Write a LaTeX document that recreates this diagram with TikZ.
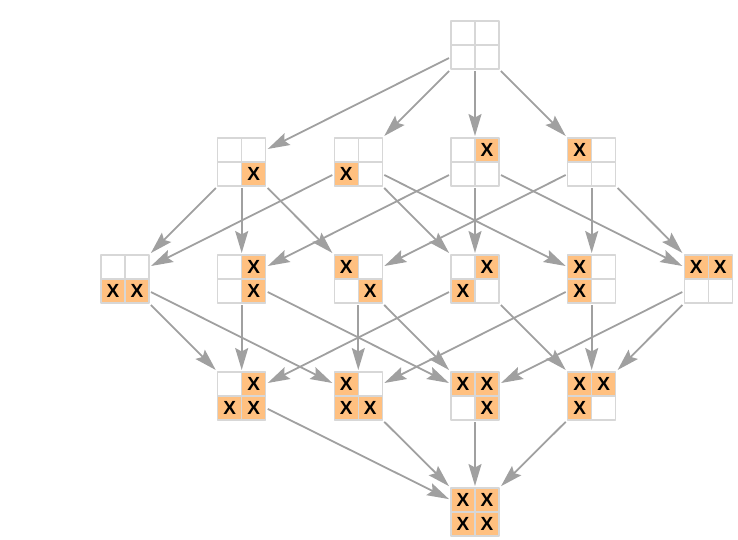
\documentclass[tikz,border=0pt]{standalone}
\usepackage{fontspec}
\setmainfont{Liberation Sans}
\usetikzlibrary{arrows.meta}
\definecolor{edgegray}{RGB}{160,160,160}
\definecolor{cellgray}{RGB}{215,215,215}
\definecolor{cellorange}{RGB}{255,192,128}
\begin{document}
\begin{tikzpicture}[x=1pt,y=-1pt,line join=round,
    >={Stealth[length=22pt,width=13pt,inset=3.5pt]},
    board/.style={minimum size=48pt,inner sep=0pt,outer sep=2pt},
    cell0/.style={draw=cellgray,line width=1.5pt,fill=white,minimum size=24pt,inner sep=0pt},
    cell1/.style={cell0,fill=cellorange,font=\fontsize{19}{19}\selectfont\bfseries},
    link/.style={->,draw=edgegray,line width=1.8pt}]
 	\useasboundingbox (0,0) rectangle (738,540);
 	% boards: cells a = top left, b = top right, c = bottom left, d = bottom right
 	\foreach \nm/\x/\y/\pa/\pb/\pc/\pd in {
 	    o/475/45/0/0/0/0,
 	    d/241.7/162/0/0/0/1, c/358.3/162/0/0/1/0, b/475/162/0/1/0/0, a/591.7/162/1/0/0/0,
 	    cd/125/279/0/0/1/1, bd/241.7/279/0/1/0/1, ad/358.3/279/1/0/0/1,
 	    bc/475/279/0/1/1/0, ac/591.7/279/1/0/1/0, ab/708.3/279/1/1/0/0,
 	    bcd/241.7/396/0/1/1/1, acd/358.3/396/1/0/1/1, abd/475/396/1/1/0/1, abc/591.7/396/1/1/1/0,
 	    abcd/475/512/1/1/1/1} {
 	  \node[board] (\nm) at (\x,\y) {};
 	  \foreach \v/\dx/\dy in {\pa/-12/-12,\pb/12/-12,\pc/-12/12,\pd/12/12}{
 	    \ifnum\v=1
 	      \node[cell1] at ({\x+\dx},{\y+\dy}) {X};
 	    \else
 	      \node[cell0] at ({\x+\dx},{\y+\dy}) {};
 	    \fi
 	  }
 	}
 	% edges
 	\foreach \s/\t in {o/d,o/c,o/b,o/a,
 	    d/cd,d/bd,d/ad,c/cd,c/bc,c/ac,b/bd,b/bc,b/ab,a/ad,a/ac,a/ab,
 	    cd/bcd,cd/acd,bd/bcd,bd/abd,ad/acd,ad/abd,bc/bcd,bc/abc,ac/acd,ac/abc,ab/abd,ab/abc,
 	    bcd/abcd,acd/abcd,abd/abcd,abc/abcd}
 	  \draw[link] (\s)--(\t);
\end{tikzpicture}
\end{document}
